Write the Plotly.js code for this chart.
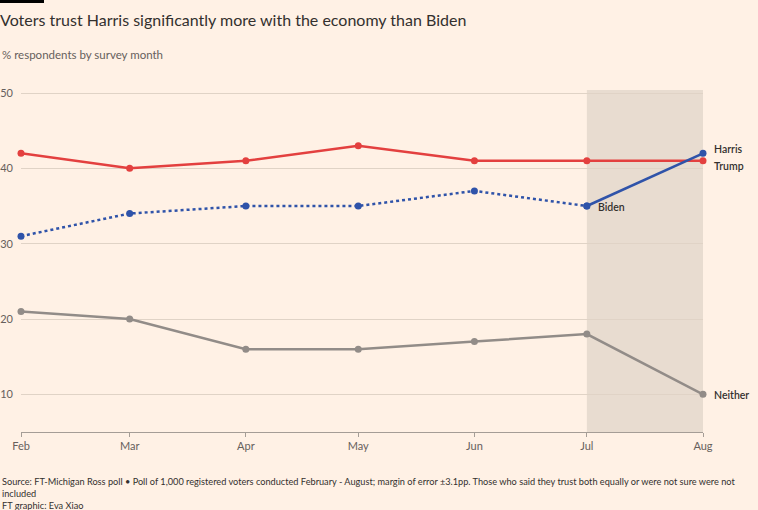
<!DOCTYPE html>
<html>
<head>
<meta charset="utf-8">
<script src="https://cdn.plot.ly/plotly-3.0.1.min.js"></script>
<style>
html,body{margin:0;padding:0;background:#fff1e5;}
#chart{width:758px;height:510px;}
</style>
</head>
<body>
<div id="chart"></div>
<script>
// Survey months (first of each month, 2024)
var months = ['2024-02-01','2024-03-01','2024-04-01','2024-05-01','2024-06-01','2024-07-01','2024-08-01'];
var monthLabels = ['Feb','Mar','Apr','May','Jun','Jul','Aug'];
// % respondents who trust each candidate more with the economy
var trump   = [42, 40, 41, 43, 41, 41, 41];
var biden   = [31, 34, 35, 35, 37, 35];          // Feb - Jul
var harris  = [42];                                // Aug
var neither = [21, 20, 16, 16, 17, 18, 10];
var yTicks  = [10, 20, 30, 40, 50];

var RED = '#e3403f', BLUE = '#2f53a9', GREY = '#928c88';
var TXT = '#33302e', SUB = '#66605c';

var bidenMonths = months.slice(0, biden.length);
var harrisX = [months[biden.length - 1]].concat(months.slice(biden.length));
var harrisY = [biden[biden.length - 1]].concat(harris);

var traces = [
  {x: months, y: neither, mode: 'lines+markers', cliponaxis: false, line: {color: GREY, width: 2.5}, marker: {color: GREY, size: 7}, hoverinfo: 'skip'},
  {x: months, y: trump, mode: 'lines+markers', cliponaxis: false, line: {color: RED, width: 2.5}, marker: {color: RED, size: 7}, hoverinfo: 'skip'},
  {x: bidenMonths, y: biden, mode: 'lines+markers', cliponaxis: false, line: {color: BLUE, width: 2.5, dash: 'dot'}, marker: {color: BLUE, size: 7}, hoverinfo: 'skip'},
  {x: harrisX, y: harrisY, mode: 'lines+markers', cliponaxis: false, line: {color: BLUE, width: 2.5}, marker: {color: BLUE, size: 7}, hoverinfo: 'skip'}
];

var PW = 682, PH = 342;
var lastM = months[months.length - 1];

var layout = {
  width: 758, height: 510,
  margin: {l: 21, r: 55, t: 90, b: 78, pad: 0},
  paper_bgcolor: '#fff1e5', plot_bgcolor: 'rgba(0,0,0,0)',
  showlegend: false,
  font: {family: 'Lato, "Open Sans", sans-serif', color: SUB},
  title: {
    text: 'Voters trust Harris significantly more with the economy than Biden',
    font: {family: 'Lato, sans-serif', size: 16, color: TXT},
    x: 0, xref: 'container', xanchor: 'left',
    y: 1 - 20/510, yref: 'container', yanchor: 'middle'
  },
  xaxis: {
    type: 'date',
    range: [months[0], lastM],
    tickvals: months, ticktext: monthLabels,
    showgrid: false, zeroline: false,
    showline: true, linecolor: '#a59d96', linewidth: 1,
    ticks: 'outside', ticklen: 4, tickcolor: '#a59d96',
    tickfont: {size: 11, color: SUB},
    fixedrange: true
  },
  yaxis: {
    range: [5, 50.4],
    tickvals: yTicks,
    showgrid: true, gridcolor: '#e0d3c6', gridwidth: 1,
    zeroline: false, showline: false, ticks: '',
    tickfont: {size: 11, color: SUB},
    ticklabelstandoff: 7,
    fixedrange: true
  },
  shapes: [
    {type: 'rect', xref: 'x', yref: 'paper', x0: months[5], x1: lastM, y0: 0, y1: 1,
     fillcolor: '#e8dcd0', line: {width: 0}, layer: 'below'},
    {type: 'rect', xref: 'paper', yref: 'paper', x0: -21/PW, x1: 23/PW, y0: 1 + 87/PH, y1: 1 + 91/PH,
     fillcolor: '#000000', line: {width: 0}},
    // label connectors
    {type: 'path', xref: 'x', yref: 'y', xsizemode: 'pixel', ysizemode: 'pixel', xanchor: lastM, yanchor: harris[0],
     path: 'M 5 -1 L 5 3 L 7 3', line: {color: '#8a837e', width: 1}},
    {type: 'path', xref: 'x', yref: 'y', xsizemode: 'pixel', ysizemode: 'pixel', xanchor: lastM, yanchor: trump[6],
     path: 'M 5 0 L 5 -4 L 7 -4', line: {color: '#8a837e', width: 1}},
    {type: 'line', xref: 'x', yref: 'y', xsizemode: 'pixel', ysizemode: 'pixel', xanchor: lastM, yanchor: neither[6],
     x0: 6, x1: 9, y0: 0, y1: 0, line: {color: '#8a837e', width: 1}}
  ],
  annotations: [
    {text: '% respondents by survey month', xref: 'paper', yref: 'paper', x: -21/PW, y: 1 + 35/PH,
     xanchor: 'left', yanchor: 'middle', showarrow: false, font: {size: 11.5, color: SUB}},
    {text: 'Harris', xref: 'x', yref: 'y', x: lastM, y: harris[0], xanchor: 'left', yanchor: 'middle',
     xshift: 9, yshift: 4, showarrow: false, font: {size: 10.5, color: TXT, weight: 600}},
    {text: 'Trump', xref: 'x', yref: 'y', x: lastM, y: trump[6], xanchor: 'left', yanchor: 'middle',
     xshift: 9, yshift: -5, showarrow: false, font: {size: 10.5, color: TXT, weight: 600}},
    {text: 'Biden', xref: 'x', yref: 'y', x: months[5], y: biden[5], xanchor: 'left', yanchor: 'middle',
     xshift: 9, yshift: -1, showarrow: false, font: {size: 10.5, color: TXT, weight: 600}},
    {text: 'Neither', xref: 'x', yref: 'y', x: lastM, y: neither[6], xanchor: 'left', yanchor: 'middle',
     xshift: 9, yshift: -1, showarrow: false, font: {size: 10.5, color: TXT, weight: 600}},
    {text: 'Source: FT-Michigan Ross poll \u2022 Poll of 1,000 registered voters conducted February - August; margin of error \u00b13.1pp. Those who said they trust both equally or were not sure were not<br>included<br>FT graphic: Eva Xiao',
     xref: 'paper', yref: 'paper', x: -21/PW, y: -42/PH, xanchor: 'left', yanchor: 'top', align: 'left',
     showarrow: false, font: {family: '"Liberation Sans Narrow", "Arial Narrow", Lato, sans-serif', size: 9.2, color: TXT}}
  ]
};

Plotly.newPlot('chart', traces, layout, {displayModeBar: false, staticPlot: true});
</script>
</body>
</html>
